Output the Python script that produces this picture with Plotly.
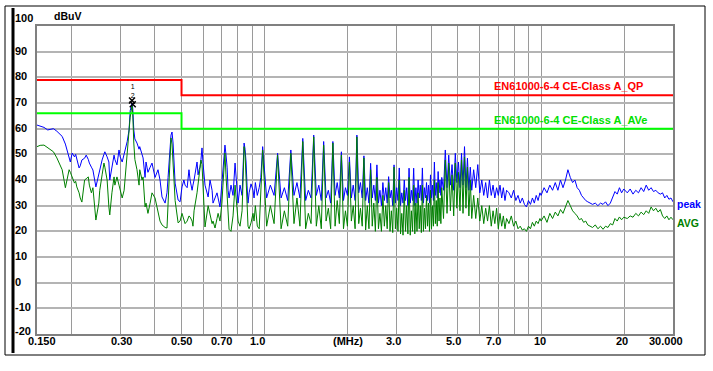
import math
import plotly.graph_objects as go

# ---------------- data ----------------
freq_lo = [0.150, 0.154, 0.159, 0.164, 0.168, 0.172, 0.177, 0.181, 0.185, 0.190,
           0.193, 0.196, 0.198, 0.201, 0.205, 0.207, 0.209, 0.213, 0.215, 0.218,
           0.223, 0.226, 0.230, 0.232, 0.236, 0.239, 0.245, 0.251, 0.253, 0.258,
           0.262, 0.264, 0.269, 0.273, 0.275, 0.280, 0.285, 0.287, 0.292, 0.297,
           0.300, 0.305, 0.310, 0.312, 0.318, 0.323, 0.326, 0.331, 0.333, 0.336,
           0.339, 0.345, 0.351, 0.353, 0.360, 0.363, 0.369, 0.372, 0.375, 0.378,
           0.385, 0.391, 0.401, 0.411, 0.418, 0.425, 0.436, 0.443, 0.447, 0.450,
           0.454, 0.458, 0.462, 0.466, 0.474, 0.486, 0.494, 0.502, 0.510, 0.515,
           0.524, 0.532, 0.537, 0.546, 0.550, 0.555, 0.569, 0.574, 0.579, 0.583,
           0.588, 0.593, 0.598, 0.608, 0.624, 0.634, 0.645, 0.650, 0.661, 0.672,
           0.678, 0.689, 0.700, 0.706, 0.712, 0.718, 0.724, 0.731, 0.737, 0.743,
           0.755, 0.768, 0.781, 0.794, 0.801, 0.814, 0.828, 0.835, 0.842, 0.849,
           0.856, 0.863, 0.870, 0.878, 0.892, 0.907, 0.915]
peak_lo = [61.4, 61.0, 60.5, 59.5, 59.8, 60.0, 59.0, 58.0, 57.0, 54.0,
           51.0, 49.0, 47.0, 50.5, 49.0, 50.0, 48.0, 44.7, 45.5, 47.8,
           48.5, 49.7, 48.0, 46.6, 45.0, 43.9, 37.3, 42.7, 44.0, 47.8,
           50.0, 51.0, 49.0, 47.0, 40.0, 45.0, 49.7, 48.0, 45.9, 51.7,
           49.0, 47.0, 50.0, 51.7, 55.0, 59.5, 67.0, 70.0, 68.0, 59.5,
           56.0, 54.4, 52.0, 53.0, 50.0, 48.6, 41.0, 47.0, 45.0, 43.0,
           45.0, 46.6, 41.0, 44.0, 40.0, 33.4, 31.0, 35.0, 41.0, 47.0,
           54.4, 57.5, 58.7, 54.4, 38.8, 32.2, 31.5, 37.3, 40.0, 38.0,
           37.0, 44.0, 40.0, 36.0, 38.0, 40.0, 47.0, 42.0, 44.0, 45.0,
           48.0, 52.5, 46.6, 38.0, 33.4, 40.0, 36.0, 31.0, 33.0, 35.0,
           33.0, 29.5, 38.8, 45.0, 50.0, 53.6, 50.0, 45.0, 36.0, 33.0,
           38.0, 34.0, 46.6, 36.0, 31.0, 38.0, 34.0, 45.0, 54.4, 52.0,
           47.0, 38.0, 31.0, 35.0, 38.5, 36.0, 33.0]
avg_lo = [53.0, 53.5, 53.6, 52.5, 51.7, 51.0, 48.6, 46.5, 44.0, 37.0,
          41.0, 44.0, 43.0, 41.0, 38.8, 39.5, 37.3, 35.0, 33.0, 31.4,
          40.0, 40.5, 41.2, 38.0, 35.0, 37.0, 24.4, 31.0, 36.0, 42.0,
          46.6, 45.0, 40.0, 29.5, 26.4, 35.0, 41.2, 38.0, 41.2, 38.0,
          36.0, 33.0, 36.0, 40.0, 49.0, 58.0, 64.5, 69.0, 66.0, 54.4,
          48.0, 44.0, 38.0, 44.0, 40.0, 41.2, 29.5, 31.0, 29.5, 27.0,
          31.0, 35.0, 33.0, 27.0, 24.0, 22.5, 21.5, 21.3, 30.0, 38.8,
          50.0, 56.4, 54.0, 45.0, 32.0, 23.3, 24.0, 27.0, 25.0, 23.0,
          24.0, 26.0, 25.6, 24.0, 22.0, 28.0, 35.0, 38.0, 41.2, 44.0,
          47.8, 46.0, 38.0, 21.7, 30.0, 26.0, 23.0, 24.0, 21.3, 25.0,
          27.0, 24.0, 31.0, 38.0, 45.0, 50.5, 42.0, 33.0, 24.0, 20.8,
          20.0, 26.0, 38.0, 27.0, 24.0, 22.0, 28.0, 40.0, 53.0, 50.0,
          38.0, 29.0, 22.0, 21.0, 23.3, 27.0, 24.0]

freq_mid = [0.925, 0.940, 0.955, 0.968,
            0.983, 1.016, 1.048, 1.081, 1.113, 1.146, 1.178, 1.211,
            1.243, 1.276, 1.308, 1.341, 1.373, 1.406, 1.438, 1.471,
            1.504, 1.537, 1.569, 1.602, 1.634, 1.667, 1.699, 1.732,
            1.764, 1.797, 1.829, 1.862, 1.894, 1.927, 1.959, 1.992,
            2.025, 2.058, 2.090, 2.123, 2.155, 2.188, 2.220, 2.253,
            2.285, 2.318, 2.350, 2.383, 2.416, 2.449, 2.481, 2.514,
            2.546, 2.579, 2.611, 2.644, 2.676, 2.709, 2.741, 2.774,
            2.807, 2.840, 2.872, 2.905, 2.937, 2.970, 3.002, 3.035,
            3.067, 3.100, 3.132, 3.165, 3.198, 3.231, 3.263, 3.296,
            3.328, 3.361, 3.393, 3.426, 3.458, 3.491, 3.523, 3.556,
            3.589, 3.622, 3.654, 3.687, 3.719, 3.752, 3.784, 3.817,
            3.849, 3.882, 3.914, 3.947, 3.979, 4.012, 4.044, 4.077,
            4.110, 4.143, 4.175, 4.208, 4.240, 4.273, 4.305, 4.338,
            4.370, 4.435, 4.501, 4.566, 4.631, 4.696, 4.761, 4.827, 4.892, 4.957,
            5.022, 5.087, 5.152, 5.217, 5.282, 5.347, 5.413, 5.478, 5.543]
peak_mid = [39, 34, 37, 41,
            53, 33, 38, 34, 50.4, 33, 37, 32,
            51.7, 34, 39, 33, 56.2, 32, 36, 33,
            57.5, 34, 38, 32, 55, 33, 36, 31,
            55, 34, 39, 33, 51, 32, 37, 34,
            49, 33, 38, 32, 57.5, 35, 39, 33,
            49.4, 32, 37, 31, 46.5, 33, 38, 32,
            45.9, 31, 36, 30, 39, 32, 37, 31,
            41.3, 33, 36, 30, 45.9, 31, 37, 32,
            44.7, 30, 35, 31, 40, 32, 37, 30,
            44.6, 31, 36, 32, 44.6, 30, 37, 31,
            40, 33, 38, 32, 44.7, 31, 37, 33,
            39, 32, 38, 31, 42, 33, 38, 32,
            47, 34, 39, 33, 43.3, 35, 40, 34,
            41, 36, 51.7, 37, 49.7, 38, 46, 36, 50.4, 39,
            47, 37, 50.4, 38, 53, 37, 48.5, 36, 45]
avg_mid = [30, 22, 21, 33,
           51.7, 22, 30, 23, 49.7, 21, 28, 22,
           50.4, 23, 33, 22, 55, 21, 27, 23,
           56.8, 22, 30, 21, 53.6, 24, 29, 21,
           54.4, 22, 32, 23, 49.7, 21, 28, 22,
           47, 24, 30, 21, 56.8, 23, 29, 22,
           48.6, 20.5, 30, 21, 44, 22, 31, 20,
           41, 21, 27, 20, 34, 22, 30, 21,
           39, 20, 28, 19.5, 45, 21, 29, 20,
           40, 19, 27, 18.5, 36, 20, 30, 19,
           41, 18.5, 28, 20, 38, 19, 31, 20,
           35, 21, 30, 19.5, 38, 20, 29, 21,
           34, 22, 31, 20, 36, 21, 30, 22,
           40, 23, 32, 22, 39, 24, 33, 23,
           37, 25, 47.8, 27, 46.6, 28, 42, 26, 46.6, 29,
           43, 28, 47.8, 27, 49, 29, 45, 26, 40]

freq_hi = [5.61, 5.70, 5.80, 5.90, 6.00, 6.10, 6.20, 6.30, 6.40, 6.50,
           6.60, 6.70, 6.80, 6.90, 7.00, 7.10, 7.20, 7.30, 7.40, 7.50,
           7.65, 7.80, 7.95, 8.10, 8.25, 8.40, 8.55, 8.70, 8.85, 9.00,
           9.15, 9.30, 9.45, 9.60, 9.75, 9.90,
           10.00, 10.25, 10.50, 10.75, 11.00, 11.25, 11.50, 11.75, 12.00, 12.25,
           12.50, 12.75, 13.00, 13.25, 13.50, 13.75, 14.00, 14.25, 14.50, 14.75, 15.00,
           15.35, 15.70, 16.05, 16.40, 16.75, 17.10, 17.45, 17.80, 18.15, 18.50,
           18.85, 19.20, 19.55, 19.90,
           20.5, 21.0, 21.5, 22.0, 22.5, 23.0, 23.5, 24.0, 24.5, 25.0,
           25.5, 26.0, 26.5, 27.0, 27.5, 28.0, 28.5, 29.0, 29.5, 30.0]
peak_hi = [36, 44, 37, 46, 35, 40, 34, 39, 33, 40,
           34, 38, 33, 37, 34, 38, 33, 37, 32, 36,
           35, 33, 36, 32, 34, 31, 33, 30.5, 29.5, 32,
           30.5, 33, 31, 34, 32, 35,
           34, 37, 35, 38, 36, 39, 36, 40, 37, 40,
           44, 41, 39, 40, 37, 36, 34, 33, 32, 31.5, 31,
           30.5, 31, 30, 31, 30.5, 31.5, 30, 31, 33, 35.5,
           34.5, 37, 35, 36.5,
           35, 36.5, 34.5, 36, 35, 37, 35.5, 38, 36, 37,
           35.5, 36, 35, 34.5, 35, 33, 34, 32.5, 33, 31.5]
avg_hi = [25, 34, 25, 33, 24, 30, 23, 29, 24, 30,
          22, 28, 23, 29, 21, 27, 22, 26, 21, 25,
          23, 26, 22, 24, 21, 22, 20.5, 21, 20, 22,
          21, 23.5, 22, 24, 23, 25,
          24, 26, 23.5, 27, 25, 27.5, 26, 28.5, 27, 29.5,
          32, 30, 28, 27, 26, 24.5, 25, 23.5, 24, 22.5, 22,
          21.5, 22.5, 21, 22, 20.8, 22, 21.5, 23, 22.5, 25,
          24, 25.6, 24.5, 25.5,
          25, 26, 25.5, 27, 26, 27.5, 26.5, 28, 27, 29.5,
          28, 29, 27.5, 28.5, 26, 25, 26, 24.5, 25.5, 24.5]

limit_freq = [0.15, 0.5, 0.5, 30.0]
limit_qp = [79, 79, 73, 73]
limit_ave = [66, 66, 60, 60]
limit_qp_name = "EN61000-6-4 CE-Class A_QP"
limit_ave_name = "EN61000-6-4 CE-Class A_AVe"

marker_freq = [0.331, 0.333]
marker_level = [71.0, 69.5]
marker_text = ["", "1<br>2"]

x_tick_vals = [0.15, 0.3, 0.5, 0.7, 1.0, 2.0, 3.0, 5.0, 7.0, 10.0, 20.0, 30.0]
x_tick_text = ["0.150", "0.30", "0.50", "0.70", "1.0", "(MHz)", "3.0", "5.0", "7.0", "10", "20", "30.000"]
x_grid_vals = [0.2, 0.3, 0.4, 0.5, 0.6, 0.7, 0.8, 0.9, 1, 2, 3, 4, 5, 6, 7, 8, 9, 10, 20, 30]
y_tick_vals = [100, 90, 80, 70, 60, 50, 40, 30, 20, 10, 0, -10, -20]

freq = freq_lo + freq_mid + freq_hi
peak = peak_lo + peak_mid + peak_hi
avg = avg_lo + avg_mid + avg_hi

# ---------------- figure ----------------
FONT = "Liberation Sans, Arial, sans-serif"
W, H = 713, 371
L, R, T, B = 37, 40, 26, 37
pw, ph = W - L - R, H - T - B

def px_x(p):
    return (p - L) / pw

def px_y(p):
    return (H - B - p) / ph

fig = go.Figure()
fig.add_trace(go.Scatter(x=freq, y=peak, mode="lines", line=dict(color="#0000ff", width=1), hoverinfo="skip"))
fig.add_trace(go.Scatter(x=freq, y=avg, mode="lines", line=dict(color="#008000", width=1), hoverinfo="skip"))
fig.add_trace(go.Scatter(x=limit_freq, y=limit_qp, mode="lines", line=dict(color="#ff0000", width=2), hoverinfo="skip"))
fig.add_trace(go.Scatter(x=limit_freq, y=limit_ave, mode="lines", line=dict(color="#00ff00", width=2), hoverinfo="skip"))
fig.add_trace(go.Scatter(x=marker_freq, y=marker_level, mode="markers+text",
                         marker=dict(symbol="x-thin", size=6, color="black", line=dict(color="black", width=1.5)),
                         text=marker_text, textposition="top center",
                         textfont=dict(family=FONT, size=7, color="black"), hoverinfo="skip"))

annotations = []
# y tick labels (left aligned, as in the reference)
for v in y_tick_vals:
    shift = 8 if v == 100 else (3 if v == -20 else 1)
    annotations.append(dict(xref="paper", yref="y", x=px_x(13), y=v, xanchor="left", yanchor="middle",
                            text="<b>%d</b>" % v, showarrow=False, yshift=shift,
                            font=dict(family=FONT, size=11, color="black")))
# x tick labels
x_shift = [4.5, 1, 0, 0, -7, 0, -3.5, -4, -4.5, -1, -2, -7.5]
for v, t, s in zip(x_tick_vals, x_tick_text, x_shift):
    annotations.append(dict(xref="x", yref="paper", x=math.log10(v), y=px_y(341), xanchor="center",
                            yanchor="middle", text="<b>%s</b>" % t, showarrow=False, xshift=s,
                            font=dict(family=FONT, size=11, color="black")))
annotations += [
    dict(xref="paper", yref="paper", x=px_x(67.5), y=px_y(16.5), text="<b>dBuV</b>", showarrow=False,
         xanchor="center", yanchor="middle", font=dict(family=FONT, size=10.5, color="black")),
    dict(xref="paper", yref="paper", x=px_x(492), y=px_y(85.5), text="<b>%s</b>" % limit_qp_name, showarrow=False,
         xanchor="left", yanchor="middle", font=dict(family=FONT, size=11, color="#ff0000")),
    dict(xref="paper", yref="paper", x=px_x(492), y=px_y(119.5), text="<b>%s</b>" % limit_ave_name, showarrow=False,
         xanchor="left", yanchor="middle", font=dict(family=FONT, size=11, color="#00e000")),
    dict(xref="paper", yref="paper", x=px_x(675), y=px_y(204), text="<b>peak</b>", showarrow=False,
         xanchor="left", yanchor="middle", font=dict(family=FONT, size=10.5, color="#0000ff")),
    dict(xref="paper", yref="paper", x=px_x(675), y=px_y(223.5), text="<b>AVG</b>", showarrow=False,
         xanchor="left", yanchor="middle", font=dict(family=FONT, size=10.5, color="#008000")),
]

shapes = [
    dict(type="rect", xref="paper", yref="paper", x0=px_x(5), x1=px_x(705), y0=px_y(355), y1=px_y(6),
         line=dict(color="black", width=1), layer="below"),
    dict(type="line", xref="paper", yref="paper", x0=px_x(13), x1=px_x(13), y0=px_y(353), y1=px_y(8),
         line=dict(color="black", width=3)),
]

fig.update_layout(
    width=W, height=H, margin=dict(l=L, r=R, t=T, b=B, pad=0),
    paper_bgcolor="white", plot_bgcolor="white", showlegend=False,
    annotations=annotations, shapes=shapes,
    xaxis=dict(type="log", range=[math.log10(0.15), math.log10(30)], tickvals=x_grid_vals,
               showticklabels=False, ticks="", showgrid=True, gridcolor="#9a9a9a", gridwidth=1,
               showline=True, linecolor="#808080", linewidth=1.5, mirror=True, zeroline=False),
    yaxis=dict(range=[-20, 100], tickvals=y_tick_vals, showticklabels=False, ticks="",
               showgrid=True, gridcolor="#b4b4b4", gridwidth=1.5,
               showline=True, linecolor="#808080", linewidth=1.5, mirror=True, zeroline=False),
)

fig.write_html("out.html", config={"displayModeBar": False},
               post_script="document.body.style.margin='0';document.body.style.overflow='hidden';")
